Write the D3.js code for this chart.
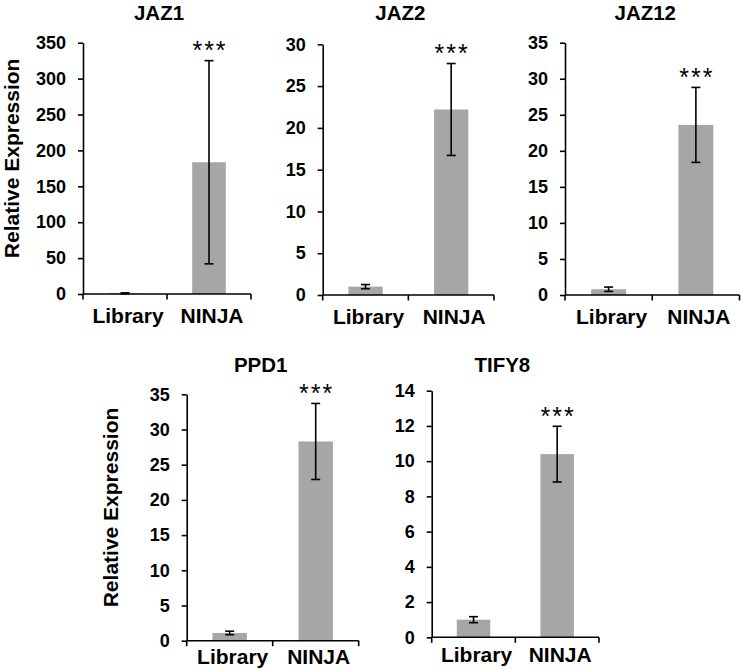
<!DOCTYPE html>
<html><head><meta charset="utf-8">
<script src="https://cdn.jsdelivr.net/npm/d3@7"></script>
<style>body{margin:0;background:#fff}svg{display:block}text{font-family:"Liberation Sans",Arial,sans-serif}</style>
</head><body>
<svg id="c" width="741" height="670"></svg>
<script>
const categories = ["Library", "NINJA"];
const genes = ["JAZ1", "JAZ2", "JAZ12", "PPD1", "TIFY8"];
const means = [[1, 183.5], [1.0, 22.2], [0.8, 23.6], [1.1, 28.3], [1.0, 10.4]];
const errors = [[0.6, 141.5], [0.25, 5.5], [0.3, 5.2], [0.25, 5.4], [0.17, 1.58]];
const yMax = [350, 30, 35, 35, 14];
const yStep = [50, 5, 5, 5, 2];
const signif = ["***", "***", "***", "***", "***"];
const yTitle = "Relative Expression";

// layout (pixel boxes of each panel's plot area)
const boxes = [
  {x0: 83, x1: 251, y0: 42.7, y1: 294, tdx: -8, showY: true, ylx: 19, xlab: 29},
  {x0: 322.7, x1: 494, y0: 44.3, y1: 295, tdx: -8, showY: false, xlab: 29},
  {x0: 565, x1: 739.5, y0: 42.7, y1: 295, tdx: -7, showY: false, xlab: 29},
  {x0: 186.7, x1: 358.7, y0: 394.3, y1: 640.7, tdx: -12, showY: true, ylx: 118, xlab: 23},
  {x0: 431.7, x1: 599, y0: 390.7, y1: 637.3, tdx: -13, showY: false, xlab: 25}
];

const svg = d3.select("#c");
const barColor = "#a6a6a6";

genes.forEach((g, i) => {
  const b = boxes[i];
  const x = d3.scaleBand().domain(categories).range([b.x0, b.x1]).paddingInner(0.6).paddingOuter(0.3);
  const y = d3.scaleLinear().domain([0, yMax[i]]).range([b.y1, b.y0]);
  const gp = svg.append("g");

  // bars
  gp.selectAll("rect.bar").data(categories).join("rect")
    .attr("x", d => x(d)).attr("width", x.bandwidth())
    .attr("y", (d, j) => y(means[i][j]))
    .attr("height", (d, j) => y(0) - y(means[i][j]))
    .attr("fill", barColor);

  // error bars
  categories.forEach((c, j) => {
    const cx = x(c) + x.bandwidth() / 2;
    const lo = y(means[i][j] - errors[i][j]);
    const hi = y(means[i][j] + errors[i][j]);
    gp.append("line").attr("x1", cx).attr("x2", cx).attr("y1", lo).attr("y2", hi)
      .attr("stroke", "#000").attr("stroke-width", 1.6);
    [lo, hi].forEach(yy => gp.append("line").attr("x1", cx - 4.5).attr("x2", cx + 4.5)
      .attr("y1", yy).attr("y2", yy).attr("stroke", "#000").attr("stroke-width", 1.6));
    if (j === 1) {
      gp.append("text").attr("x", cx + 1).attr("y", hi - 1.5).attr("text-anchor", "middle")
        .attr("font-size", 25).attr("letter-spacing", "2px").attr("fill", "#000").text(signif[i]);
    }
  });

  // y axis
  const ticks = d3.range(0, yMax[i] + 1e-9, yStep[i]);
  const ya = d3.axisLeft(y).tickValues(ticks).tickSize(5).tickSizeOuter(0).tickPadding(12).tickFormat(d3.format("d"));
  const yg = gp.append("g").attr("transform", `translate(${b.x0},0)`).call(ya);
  yg.select(".domain").attr("stroke-width", 1.6);
  yg.selectAll(".tick line").attr("stroke-width", 1.6);
  yg.selectAll(".tick text").attr("font-size", 18).attr("font-weight", "bold")
    .attr("font-family", "'Liberation Sans',Arial,sans-serif").attr("fill", "#000");

  // x axis: line with ticks at category boundaries
  const xg = gp.append("g");
  xg.append("line").attr("x1", b.x0).attr("x2", b.x1).attr("y1", b.y1).attr("y2", b.y1)
    .attr("stroke", "#000").attr("stroke-width", 1.6);
  const mid = (x(categories[0]) + x.bandwidth() + x(categories[1])) / 2;
  [b.x0, mid, b.x1].forEach(tx => xg.append("line").attr("x1", tx).attr("x2", tx)
    .attr("y1", b.y1).attr("y2", b.y1 + 5.5).attr("stroke", "#000").attr("stroke-width", 1.6));
  categories.forEach(c => xg.append("text")
    .attr("x", x(c) + x.bandwidth() / 2 + 3).attr("y", b.y1 + b.xlab)
    .attr("text-anchor", "middle").attr("font-size", 21).attr("font-weight", "bold").text(c));

  // title
  gp.append("text").attr("x", (b.x0 + b.x1) / 2 + b.tdx).attr("y", i < 3 ? 19.5 : 371.5)
    .attr("text-anchor", "middle").attr("font-size", 20.5).attr("font-weight", "bold").text(g);

  // y title
  if (b.showY) {
    const cy = (b.y0 + b.y1) / 2 - 10;
    gp.append("text").attr("transform", `translate(${b.ylx},${cy}) rotate(-90)`)
      .attr("text-anchor", "middle").attr("font-size", 21).attr("font-weight", "bold").text(yTitle);
  }
});
</script>
</body></html>
